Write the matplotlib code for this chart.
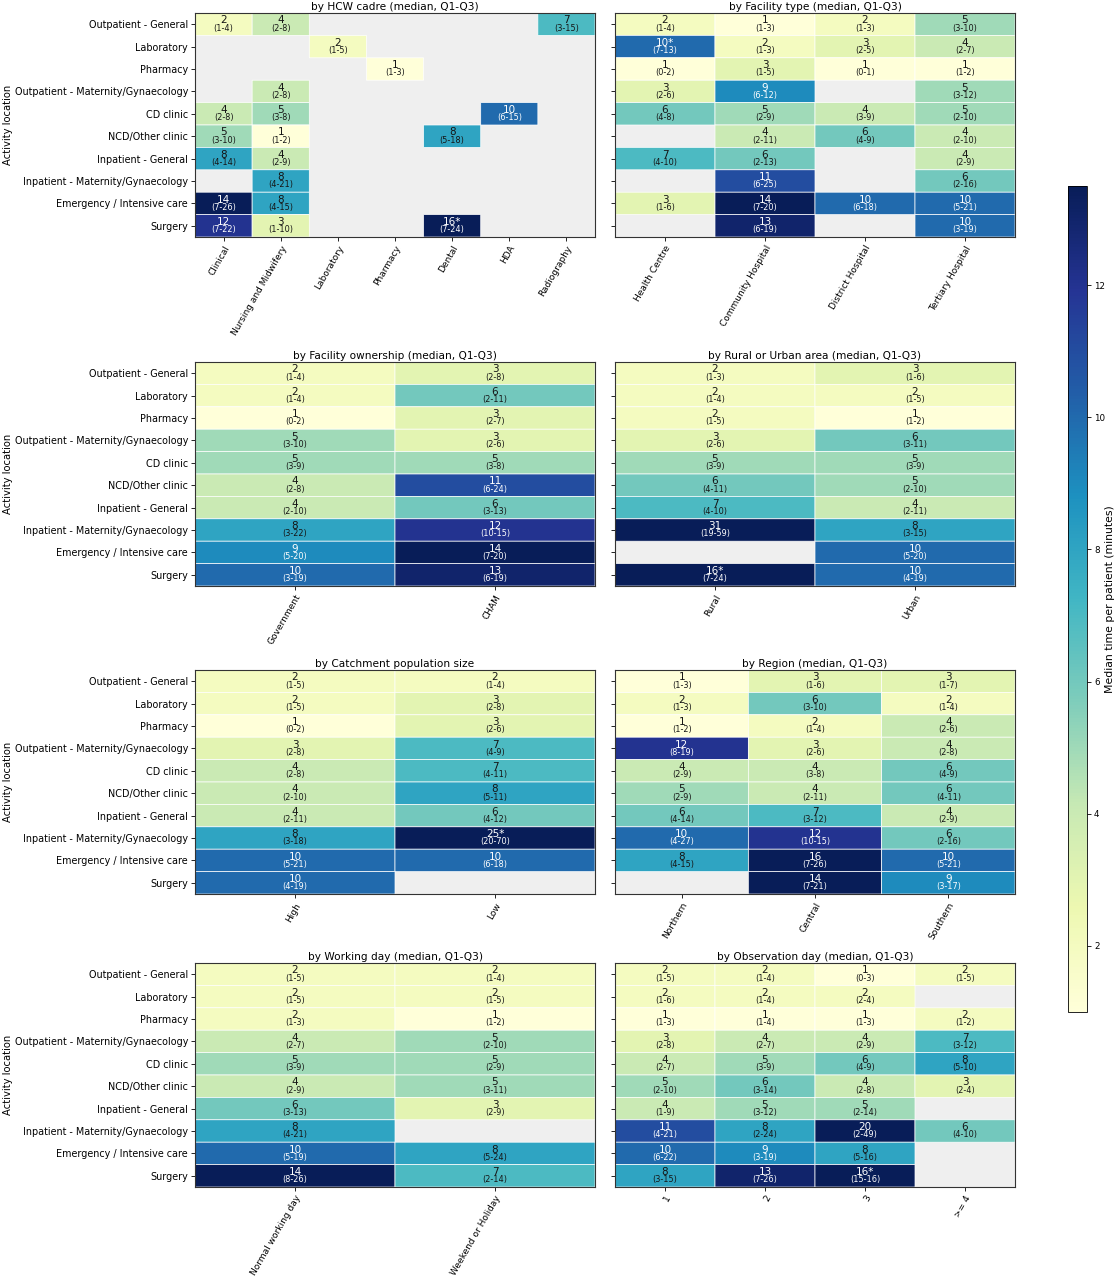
import numpy as np
import matplotlib
matplotlib.use("Agg")
import matplotlib.pyplot as plt

# Activity locations (rows, shared by every panel)
locations = [
    "Outpatient - General", "Laboratory", "Pharmacy",
    "Outpatient - Maternity/Gynaecology", "CD clinic", "NCD/Other clinic",
    "Inpatient - General", "Inpatient - Maternity/Gynaecology",
    "Emergency / Intensive care", "Surgery",
]

# --- by HCW cadre ---
cadre_cols = ["Clinical", "Nursing and Midwifery", "Laboratory", "Pharmacy", "Dental", "HDA", "Radiography"]
cadre_med = [
    ["2", "4", "", "", "", "", "7"],
    ["", "", "2", "", "", "", ""],
    ["", "", "", "1", "", "", ""],
    ["", "4", "", "", "", "", ""],
    ["4", "5", "", "", "", "10", ""],
    ["5", "1", "", "", "8", "", ""],
    ["8", "4", "", "", "", "", ""],
    ["", "8", "", "", "", "", ""],
    ["14", "8", "", "", "", "", ""],
    ["12", "3", "", "", "16*", "", ""],
]
cadre_iqr = [
    ["1-4", "2-8", "", "", "", "", "3-15"],
    ["", "", "1-5", "", "", "", ""],
    ["", "", "", "1-3", "", "", ""],
    ["", "2-8", "", "", "", "", ""],
    ["2-8", "3-8", "", "", "", "6-15", ""],
    ["3-10", "1-2", "", "", "5-18", "", ""],
    ["4-14", "2-9", "", "", "", "", ""],
    ["", "4-21", "", "", "", "", ""],
    ["7-26", "4-15", "", "", "", "", ""],
    ["7-22", "1-10", "", "", "7-24", "", ""],
]

# --- by Facility type ---
ftype_cols = ["Health Centre", "Community Hospital", "District Hospital", "Tertiary Hospital"]
ftype_med = [
    ["2", "1", "2", "5"],
    ["10*", "2", "3", "4"],
    ["1", "3", "1", "1"],
    ["3", "9", "", "5"],
    ["6", "5", "4", "5"],
    ["", "4", "6", "4"],
    ["7", "6", "", "4"],
    ["", "11", "", "6"],
    ["3", "14", "10", "10"],
    ["", "13", "", "10"],
]
ftype_iqr = [
    ["1-4", "1-3", "1-3", "3-10"],
    ["7-13", "1-3", "2-5", "2-7"],
    ["0-2", "1-5", "0-1", "1-2"],
    ["2-6", "6-12", "", "3-12"],
    ["4-8", "2-9", "3-9", "2-10"],
    ["", "2-11", "4-9", "2-10"],
    ["4-10", "2-13", "", "2-9"],
    ["", "6-25", "", "2-16"],
    ["1-6", "7-20", "6-18", "5-21"],
    ["", "6-19", "", "3-19"],
]

# --- by Facility ownership ---
owner_cols = ["Government", "CHAM"]
owner_med = [["2", "3"], ["2", "6"], ["1", "3"], ["5", "3"], ["5", "5"],
             ["4", "11"], ["4", "6"], ["8", "12"], ["9", "14"], ["10", "13"]]
owner_iqr = [["1-4", "2-8"], ["1-4", "2-11"], ["0-2", "2-7"], ["3-10", "2-6"], ["3-9", "3-8"],
             ["2-8", "6-24"], ["2-10", "3-13"], ["3-22", "10-15"], ["5-20", "7-20"], ["3-19", "6-19"]]

# --- by Rural or Urban area ---
area_cols = ["Rural", "Urban"]
area_med = [["2", "3"], ["2", "2"], ["2", "1"], ["3", "6"], ["5", "5"],
            ["6", "5"], ["7", "4"], ["31", "8"], ["", "10"], ["16*", "10"]]
area_iqr = [["1-3", "1-6"], ["1-4", "1-5"], ["1-5", "1-2"], ["2-6", "3-11"], ["3-9", "3-9"],
            ["4-11", "2-10"], ["4-10", "2-11"], ["19-59", "3-15"], ["", "5-20"], ["7-24", "4-19"]]

# --- by Catchment population size ---
catch_cols = ["High", "Low"]
catch_med = [["2", "2"], ["2", "3"], ["1", "3"], ["3", "7"], ["4", "7"],
             ["4", "8"], ["4", "6"], ["8", "25*"], ["10", "10"], ["10", ""]]
catch_iqr = [["1-5", "1-4"], ["1-5", "2-8"], ["0-2", "2-6"], ["2-8", "4-9"], ["2-8", "4-11"],
             ["2-10", "5-11"], ["2-11", "4-12"], ["3-18", "20-70"], ["5-21", "6-18"], ["4-19", ""]]

# --- by Region ---
region_cols = ["Northern", "Central", "Southern"]
region_med = [["1", "3", "3"], ["2", "6", "2"], ["1", "2", "4"], ["12", "3", "4"], ["4", "4", "6"],
              ["5", "4", "6"], ["6", "7", "4"], ["10", "12", "6"], ["8", "16", "10"], ["", "14", "9"]]
region_iqr = [["1-3", "1-6", "1-7"], ["1-3", "3-10", "1-4"], ["1-2", "1-4", "2-6"],
              ["8-19", "2-6", "2-8"], ["2-9", "3-8", "4-9"], ["2-9", "2-11", "4-11"],
              ["4-14", "3-12", "2-9"], ["4-27", "10-15", "2-16"], ["4-15", "7-26", "5-21"],
              ["", "7-21", "3-17"]]

# --- by Working day ---
wday_cols = ["Normal working day", "Weekend or Holiday"]
wday_med = [["2", "2"], ["2", "2"], ["2", "1"], ["4", "5"], ["5", "5"],
            ["4", "5"], ["6", "3"], ["8", ""], ["10", "8"], ["14", "7"]]
wday_iqr = [["1-5", "1-4"], ["1-5", "1-5"], ["1-3", "1-2"], ["2-7", "2-10"], ["3-9", "2-9"],
            ["2-9", "3-11"], ["3-13", "2-9"], ["4-21", ""], ["5-19", "5-24"], ["8-26", "2-14"]]

# --- by Observation day ---
oday_cols = ["1", "2", "3", ">= 4"]
oday_med = [
    ["2", "2", "1", "2"],
    ["2", "2", "2", ""],
    ["1", "1", "1", "2"],
    ["3", "4", "4", "7"],
    ["4", "5", "6", "8"],
    ["5", "6", "4", "3"],
    ["4", "5", "5", ""],
    ["11", "8", "20", "6"],
    ["10", "9", "8", ""],
    ["8", "13", "16*", ""],
]
oday_iqr = [
    ["1-5", "1-4", "0-3", "1-5"],
    ["1-6", "1-4", "2-4", ""],
    ["1-3", "1-4", "1-3", "1-2"],
    ["2-8", "2-7", "2-9", "3-12"],
    ["2-7", "3-9", "4-9", "5-10"],
    ["2-10", "3-14", "2-8", "2-4"],
    ["1-9", "3-12", "2-14", ""],
    ["4-21", "2-24", "2-49", "4-10"],
    ["6-22", "3-19", "5-16", ""],
    ["3-15", "7-26", "15-16", ""],
]

panels = [
    ("by HCW cadre (median, Q1-Q3)", cadre_cols, cadre_med, cadre_iqr),
    ("by Facility type (median, Q1-Q3)", ftype_cols, ftype_med, ftype_iqr),
    ("by Facility ownership (median, Q1-Q3)", owner_cols, owner_med, owner_iqr),
    ("by Rural or Urban area (median, Q1-Q3)", area_cols, area_med, area_iqr),
    ("by Catchment population size", catch_cols, catch_med, catch_iqr),
    ("by Region (median, Q1-Q3)", region_cols, region_med, region_iqr),
    ("by Working day (median, Q1-Q3)", wday_cols, wday_med, wday_iqr),
    ("by Observation day (median, Q1-Q3)", oday_cols, oday_med, oday_iqr),
]

VMIN, VMAX = 1, 13.5
cmap = plt.get_cmap("YlGnBu").copy()
cmap.set_bad((0, 0, 0, 0))

fig = plt.figure(figsize=(11.17, 12.8), dpi=100)

col_left = [195 / 1117, 615 / 1117]
col_w = 400 / 1117
row_bottom = [1 - 237 / 1280, 1 - 586 / 1280, 1 - 894 / 1280, 1 - 1187 / 1280]
row_h = 224 / 1280

FS = 6.9
mesh = None
for i, (title, cols, med, iqr) in enumerate(panels):
    r, c = divmod(i, 2)
    ax = fig.add_axes([col_left[c], row_bottom[r], col_w, row_h])
    ax.set_facecolor("#efefef")

    vals = np.array([[float(s.rstrip("*")) if s else np.nan for s in row] for row in med])
    data = np.ma.masked_invalid(vals)
    mesh = ax.pcolor(data, cmap=cmap, vmin=VMIN, vmax=VMAX,
                     edgecolors="white", linewidth=0.5)

    for yi in range(len(locations)):
        for xi in range(len(cols)):
            if not med[yi][xi]:
                continue
            color = "white" if vals[yi, xi] > 8.5 else "#151515"
            ax.text(xi + 0.5, yi + 0.33, med[yi][xi], ha="center", va="center",
                    fontsize=7.5, color=color)
            ax.text(xi + 0.5, yi + 0.67, "(" + iqr[yi][xi] + ")", ha="center", va="center",
                    fontsize=5.9, color=color)

    ax.set_xlim(0, len(cols))
    ax.set_ylim(len(locations), 0)
    ax.set_xticks(np.arange(len(cols)) + 0.5)
    ax.set_xticklabels(cols, rotation=60, ha="right", rotation_mode="anchor", fontsize=6.5)
    ax.set_yticks(np.arange(len(locations)) + 0.5)
    if c == 0:
        ax.set_yticklabels(locations, fontsize=FS)
        ax.set_ylabel("Activity location", fontsize=7.2)
        ax.yaxis.set_label_coords(-0.455, 0.5)
    else:
        ax.set_yticklabels([])
    ax.tick_params(length=3, width=0.6, pad=2)
    ax.set_title(title, fontsize=7.6, pad=2)
    for sp in ax.spines.values():
        sp.set_color("#333333")
        sp.set_linewidth(0.8)

cax = fig.add_axes([1068 / 1117, 1 - 1012 / 1280, 19 / 1117, 826 / 1280])
cbar = fig.colorbar(mesh, cax=cax)
cbar.set_ticks([2, 4, 6, 8, 10, 12])
cbar.ax.tick_params(labelsize=6.3, length=3, width=0.6, pad=2)
cbar.outline.set_linewidth(0.6)
cbar.set_label("Median time per patient (minutes)", fontsize=7.8, labelpad=0)

fig.savefig("out.png", dpi=100)
